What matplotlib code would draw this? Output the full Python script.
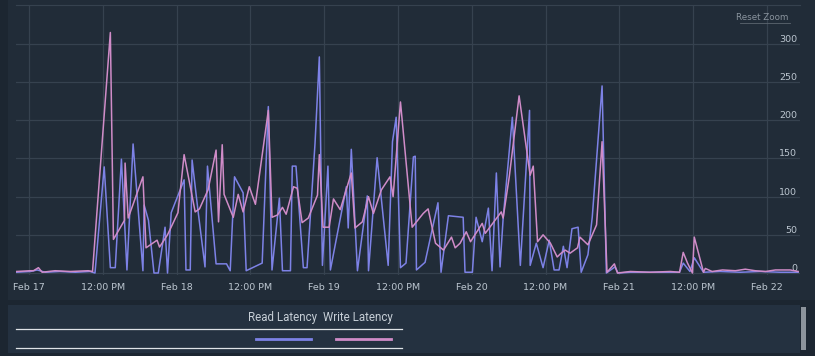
import matplotlib.pyplot as plt
from matplotlib.patches import Rectangle
from matplotlib.lines import Line2D

# hours since Feb 17 00:00
READ_HOURS = [-2.1, 0.2, 1.3, 2.6, 5.0, 7.5, 9.9, 10.7, 12.2, 13.2, 14.0, 15.0, 15.9, 16.9,
              18.5, 18.7, 19.4, 20.3, 21.0, 22.1, 22.5, 23.1, 25.2, 25.5, 26.2, 26.5, 27.5,
              28.6, 29.0, 30.4, 32.1, 32.7, 33.4, 34.8, 35.3, 37.9, 38.9, 39.5, 40.7, 41.2,
              42.5, 42.8, 43.4, 44.6, 45.2, 46.5, 47.2, 47.7, 48.6, 49.0, 51.6, 51.9, 52.4,
              53.4, 55.0, 55.2, 56.6, 58.4, 59.1, 59.7, 60.4, 61.3, 62.5, 62.8, 63.0, 64.4,
              66.5, 67.0, 68.2, 70.6, 70.9, 72.1, 72.7, 73.7, 74.7, 75.3, 76.0, 76.6, 77.1,
              78.6, 79.9, 81.4, 81.5, 82.5, 83.6, 84.6, 85.4, 86.2, 86.9, 87.5, 88.3, 89.3,
              89.8, 90.9, 91.6, 93.2, 93.9, 95.3, 95.8, 97.8, 101.0, 104.3, 105.8, 106.4,
              107.5, 108.2, 109.7, 112.4, 115.7, 118.9, 122.2, 125.1]
READ_MS = [1, 2, 4, 1, 2, 1, 2, 0, 139, 7, 7, 149, 4, 169,
           3, 89, 69, 0, 0, 60, 0, 79, 122, 4, 4, 148, 79,
           8, 140, 12, 12, 3, 126, 105, 3, 13, 218, 4, 98, 3,
           3, 140, 140, 7, 7, 170, 283, 10, 140, 4, 113, 59, 162,
           3, 101, 3, 151, 10, 172, 204, 7, 13, 152, 153, 4, 14,
           92, 1, 75, 73, 1, 1, 73, 41, 85, 3, 131, 8, 71,
           204, 10, 213, 10, 39, 7, 43, 4, 4, 35, 7, 58, 60,
           1, 24, 73, 245, 0, 8, 0, 1, 1, 1, 1, 13,
           2, 20, 1, 2, 1, 2, 1, 1]

WRITE_HOURS = [-2.1, 0.2, 0.7, 1.5, 2.1, 4.2, 6.7, 9.6, 10.3, 13.2, 13.7, 15.5, 15.6, 16.1,
               18.5, 19.0, 20.8, 21.2, 22.5, 24.2, 25.2, 27.0, 27.7, 29.1, 30.4, 30.8, 31.4,
               31.7, 33.2, 34.0, 34.8, 35.8, 36.8, 38.9, 39.5, 40.4, 41.2, 41.8, 43.0, 43.6,
               44.4, 45.4, 46.9, 47.2, 47.8, 48.8, 49.5, 50.6, 52.4, 53.0, 54.2, 55.2, 56.0,
               57.3, 58.7, 59.2, 60.4, 62.3, 64.1, 64.9, 66.1, 67.4, 68.7, 69.3, 70.1, 71.1,
               71.8, 73.7, 74.2, 76.8, 77.1, 78.1, 79.7, 81.5, 82.0, 82.7, 83.6, 84.8, 85.9,
               86.4, 87.2, 88.0, 89.2, 89.6, 90.9, 92.3, 93.2, 94.0, 95.2, 95.7, 97.8, 101.0,
               104.3, 105.8, 106.4, 107.1, 107.9, 108.2, 109.7, 110.0, 111.1, 112.8, 114.9,
               116.5, 118.1, 119.8, 121.4, 123.8, 125.1]
WRITE_MS = [2, 3, 3, 7, 1, 3, 2, 3, 2, 315, 44, 69, 144, 72,
            126, 33, 43, 34, 50, 79, 155, 80, 84, 109, 161, 67, 168,
            103, 73, 103, 80, 113, 90, 213, 73, 76, 86, 77, 113, 111,
            66, 72, 102, 155, 60, 60, 97, 83, 131, 59, 67, 100, 78,
            109, 126, 100, 224, 60, 78, 84, 39, 30, 47, 33, 39, 54,
            41, 65, 52, 80, 72, 126, 232, 128, 140, 41, 50, 39, 21,
            25, 30, 26, 33, 47, 37, 63, 172, 1, 12, 0, 2, 1,
            2, 1, 27, 13, 0, 47, 1, 6, 2, 4, 3,
            5, 3, 2, 4, 4, 2]

TICK_HOURS = [0, 12, 24, 36, 48, 60, 72, 84, 96, 108, 120]
TICK_LABELS = ["Feb 17", "12:00 PM", "Feb 18", "12:00 PM", "Feb 19", "12:00 PM",
               "Feb 20", "12:00 PM", "Feb 21", "12:00 PM", "Feb 22"]
Y_TICKS = [0, 50, 100, 150, 200, 250, 300]
SERIES_NAMES = ["Read Latency", "Write Latency"]

READ_COLOR = "#7d82e6"
WRITE_COLOR = "#d08cc8"
GRID_COLOR = "#36424f"
TEXT_COLOR = "#bcc6d0"

W, H = 815, 356
fig = plt.figure(figsize=(W / 100, H / 100), dpi=100)
fig.patch.set_facecolor("#1c2631")


def px_rect(x0, y0, x1, y1, color):
    fig.add_artist(Rectangle((x0 / W, 1 - y1 / H), (x1 - x0) / W, (y1 - y0) / H,
                             transform=fig.transFigure, facecolor=color, edgecolor="none", zorder=0))


px_rect(8, 0, 815, 300, "#212c38")
px_rect(8, 305, 800, 353, "#243140")
px_rect(801, 307, 806, 350, "#8c939b")

ax = fig.add_axes([16 / W, 1 - 275 / H, (800 - 16) / W, (275 - 5) / H])
ax.set_facecolor("#212c38")
ax.plot(READ_HOURS, READ_MS, color=READ_COLOR, lw=1.1, zorder=3)
ax.plot(WRITE_HOURS, WRITE_MS, color=WRITE_COLOR, lw=1.1, zorder=4)

ax.set_xlim(-2.15, 125.4)
ax.set_ylim(-2.6, 351)
ax.set_xticks(TICK_HOURS)
ax.set_xticklabels(TICK_LABELS)
ax.set_yticks(Y_TICKS)
ax.yaxis.tick_right()
ax.tick_params(axis="x", length=0, pad=6, labelsize=6.8, labelcolor=TEXT_COLOR)
ax.tick_params(axis="y", length=0, pad=-2, labelsize=6.8, labelcolor=TEXT_COLOR)
for lab in ax.get_yticklabels():
    lab.set_ha("right")
    lab.set_va("bottom")
ax.grid(True, color=GRID_COLOR, lw=0.9, zorder=1)
for s in ["left", "right", "bottom"]:
    ax.spines[s].set_visible(False)
ax.spines["top"].set_color(GRID_COLOR)

ax.text(0.985, 0.955, "Reset Zoom", transform=ax.transAxes, ha="right", va="center",
        fontsize=6.3, color="#8a949e")
fig.add_artist(Line2D([740 / W, 790 / W], [1 - 22.5 / H] * 2, color="#5c6670", lw=0.6))

# legend panel
fig.text(283 / W, 1 - 318 / H, SERIES_NAMES[0], ha="center", va="center",
         fontsize=8.3, color="#c6ced6", family="Roboto")
fig.text(358 / W, 1 - 318 / H, SERIES_NAMES[1], ha="center", va="center",
         fontsize=8.3, color="#c6ced6", family="Roboto")
fig.add_artist(Line2D([16 / W, 402 / W], [1 - 329 / H] * 2, color="#dfe3e7", lw=0.9))
fig.add_artist(Line2D([16 / W, 402 / W], [1 - 348 / H] * 2, color="#dfe3e7", lw=0.9))
fig.add_artist(Line2D([256 / W, 311 / W], [1 - 339 / H] * 2, color=READ_COLOR, lw=2))
fig.add_artist(Line2D([336 / W, 391 / W], [1 - 339 / H] * 2, color=WRITE_COLOR, lw=2))

fig.savefig("out.png", dpi=100, facecolor=fig.get_facecolor())
